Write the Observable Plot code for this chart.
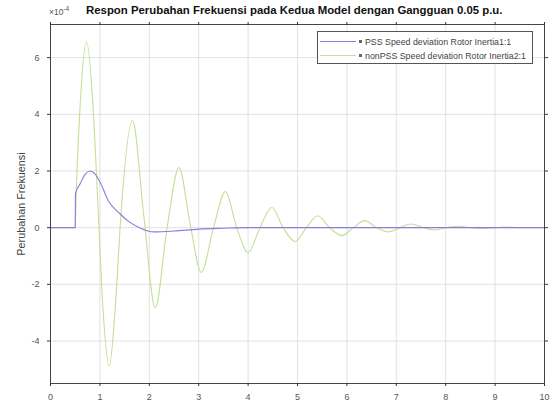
<!DOCTYPE html>
<html>
<head>
<meta charset="utf-8">
<script src="https://cdn.jsdelivr.net/npm/d3@7"></script>
<script src="https://cdn.jsdelivr.net/npm/@observablehq/plot@0.6"></script>
<style>
  html, body { margin: 0; padding: 0; background: #fff; }
  #wrap { position: relative; width: 552px; height: 411px; font-family: "Liberation Sans", Arial, sans-serif; overflow: hidden; }
  #title { position: absolute; left: 86px; width: 400px; top: 4px; text-align: center; font-size: 11.4px; font-weight: bold; color: #111; white-space: nowrap; }
  #exp { position: absolute; left: 49px; top: 5px; font-size: 8.5px; color: #555; }
  #legend { position: absolute; left: 317px; top: 31px; width: 216px; height: 33px; border: 1px solid #555; background: #fff; font-size: 8.8px; color: #444; box-sizing: border-box; }
  .row { position: absolute; left: 2px; height: 11px; display: flex; align-items: center; white-space: nowrap; }
  .sw { width: 36px; height: 0; border-top: 1px solid; margin-right: 3px; }
  .dot { width: 3px; height: 3px; background: #666; margin-right: 3px; }
</style>
</head>
<body>
<div id="wrap">
  <div id="chart"></div>
  <div id="exp">×10<sup style="font-size:6.5px">-4</sup></div>
  <div id="title">Respon Perubahan Frekuensi pada Kedua Model dengan Gangguan 0.05 p.u.</div>
  <div id="legend"></div>
</div>
<script>
// Series names
const seriesNames = ["PSS Speed deviation Rotor Inertia1:1", "nonPSS Speed deviation Rotor Inertia2:1"];
const seriesColors = ["#8a7ce0", "#c2e196"];

// PSS (purple) key points, values in units of 1e-4
const pssT = [0, 0.5, 0.505, 0.6, 0.7, 0.8, 0.9, 1.0, 1.17, 1.4, 1.58, 1.8, 2.1, 2.5, 3.0, 3.5, 4.0, 10];
const pssV = [0, 0, 1.2, 1.55, 1.88, 2.0, 1.9, 1.62, 0.95, 0.5, 0.22, 0.0, -0.15, -0.12, -0.05, -0.02, 0, 0];

// nonPSS (green) key points: peaks, troughs and zero crossings
const npT = [0, 0.5, 0.52, 0.6, 0.73, 0.86, 0.96, 1.06, 1.19, 1.32, 1.42, 1.66, 1.89, 2.12, 2.36, 2.6, 2.83, 3.05, 3.3, 3.54, 3.77, 4.0, 4.24, 4.48, 4.71, 4.95, 5.18, 5.41, 5.65, 5.9, 6.13, 6.36, 6.6, 6.85, 7.07, 7.3, 7.55, 7.78, 8.0, 8.25, 8.5, 8.72, 9.0, 9.2, 9.5, 10];
const npV = [0, 0, 1.2, 4.3, 6.55, 4.3, 0.8, -2.8, -4.88, -2.6, 0.3, 3.78, 0.4, -2.83, 0.0, 2.12, 0.1, -1.58, 0.0, 1.27, 0.0, -0.88, 0.0, 0.71, 0.0, -0.49, 0.0, 0.42, 0.0, -0.28, 0.0, 0.25, 0.0, -0.15, 0.0, 0.13, 0.0, -0.08, 0.0, 0.05, 0.0, -0.03, 0.0, 0.02, 0.0, 0];

const xTicks = [0,1,2,3,4,5,6,7,8,9,10];
const yTicks = [-4,-2,0,2,4,6];

const pss = pssT.map((t, i) => ({t, v: pssV[i]}));
const np = npT.map((t, i) => ({t, v: npV[i]}));

const plot = Plot.plot({
  width: 552, height: 411,
  marginLeft: 50, marginRight: 8, marginTop: 24, marginBottom: 28,
  style: {fontFamily: "Liberation Sans, Arial, sans-serif", fontSize: "9px", color: "#555", background: "white"},
  x: {domain: [0, 10]},
  y: {domain: [-5.5, 7.17]},
  marks: [
    Plot.gridX(xTicks, {stroke: "#d6d6d6", strokeOpacity: 1, strokeWidth: 0.7}),
    Plot.gridY(yTicks, {stroke: "#d6d6d6", strokeOpacity: 1, strokeWidth: 0.7}),
    Plot.line(np, {x: "t", y: "v", stroke: seriesColors[1], strokeWidth: 1.1, curve: "monotone-x"}),
    Plot.line(pss, {x: "t", y: "v", stroke: seriesColors[0], strokeWidth: 1.1, curve: "monotone-x"}),
    Plot.frame({stroke: "#333", strokeWidth: 0.9}),
    Plot.axisX(xTicks, {anchor: "bottom", tickSize: 3, stroke: "#333", fill: "#555", tickPadding: 7, label: null, tickFormat: d => String(d)}),
    Plot.axisX(xTicks, {anchor: "top", tickSize: 3, stroke: "#333", label: null, tickFormat: () => ""}),
    Plot.axisY(yTicks, {anchor: "left", tickSize: 3, stroke: "#333", fill: "#555", tickPadding: 8, label: null, tickFormat: d => String(d)}),
    Plot.axisY(yTicks, {anchor: "right", tickSize: 3, stroke: "#333", label: null, tickFormat: () => ""}),
    Plot.text(["Perubahan Frekuensi"], {frameAnchor: "left", textAnchor: "middle", dx: -29, rotate: -90, fontSize: 10.8, fill: "#444"})
  ]
});
document.getElementById("chart").appendChild(plot);

const lg = document.getElementById("legend");
seriesNames.forEach((name, i) => {
  const row = document.createElement("div");
  row.className = "row";
  row.style.top = (4 + i * 14) + "px";
  row.innerHTML = `<div class="sw" style="border-color:${seriesColors[i]}"></div><div class="dot"></div><span>${name}</span>`;
  lg.appendChild(row);
});
</script>
</body>
</html>
